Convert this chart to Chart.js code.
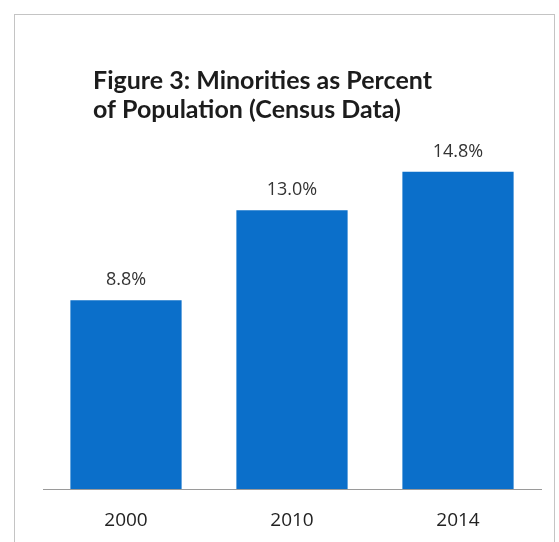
<!DOCTYPE html>
<html>
<head>
<meta charset="utf-8">
<title>Minorities as Percent of Population</title>
<script src="https://cdn.jsdelivr.net/npm/chart.js@4.4.0/dist/chart.umd.min.js"></script>
<style>
  body { margin: 0; background: #fff; }
  #wrap { position: relative; width: 559px; height: 542px; }
  #frame {
    position: absolute; left: 14px; top: 14px; width: 541px; height: 540px;
    border: 1px solid #c4c4c4; box-sizing: border-box;
  }
  #mycanvas { position: absolute; left: 0; top: 0; }
</style>
</head>
<body>
<div id="wrap">
  <div id="frame"></div>
  <canvas id="mycanvas" width="559" height="542"></canvas>
</div>
<script>
var years = ['2000', '2010', '2014'];
var minorityPct = [8.8, 13.0, 14.8];
var titleLines = ['Figure 3: Minorities as Percent', 'of Population (Census Data)'];

// title and the value above each bar
var labelPlugin = {
    id: 'labels',
    afterDatasetsDraw: function (chart) {
        var ctx = chart.ctx;
        ctx.save();
        ctx.fillStyle = '#1c1c1c';
        ctx.font = 'bold 25px Lato';
        ctx.textAlign = 'left';
        ctx.textBaseline = 'middle';
        ctx.fillText(titleLines[0], 93, 81);
        ctx.fillText(titleLines[1], 93, 110);

        ctx.fillStyle = '#333';
        ctx.font = '18px "Open Sans"';
        ctx.textAlign = 'center';
        chart.getDatasetMeta(0).data.forEach(function (bar, i) {
            ctx.fillText(minorityPct[i].toFixed(1) + '%', bar.x, bar.y - 20);
        });
        ctx.restore();
    }
};

var chartdata = {
    labels: years,
    datasets: [{
        label: 'Minorities',
        backgroundColor: '#0b6fca',
        borderWidth: 0,
        data: minorityPct
    }]
};

var ctx = document.getElementById('mycanvas');

var barGraph = new Chart(ctx, {
    type: 'bar',
    data: chartdata,
    options: {
        responsive: false,
        animation: false,
        layout: { padding: { left: 43, right: 18, top: 146, bottom: 8 } },
        plugins: {
            legend: { display: false },
            tooltip: { enabled: false }
        },
        datasets: {
            bar: { categoryPercentage: 1, barPercentage: 0.67 }
        },
        scales: {
            x: {
                grid: { display: false, drawTicks: false, tickLength: 0 },
                border: { display: true, color: '#9a9a9a', width: 1 },
                ticks: { color: '#222', font: { family: 'Open Sans', size: 19 }, padding: 20 },
                afterFit: function (scale) { scale.height = 45; }
            },
            y: { display: false, min: 0, max: 16 }
        }
    },
    plugins: [labelPlugin]
});
</script>
</body>
</html>
